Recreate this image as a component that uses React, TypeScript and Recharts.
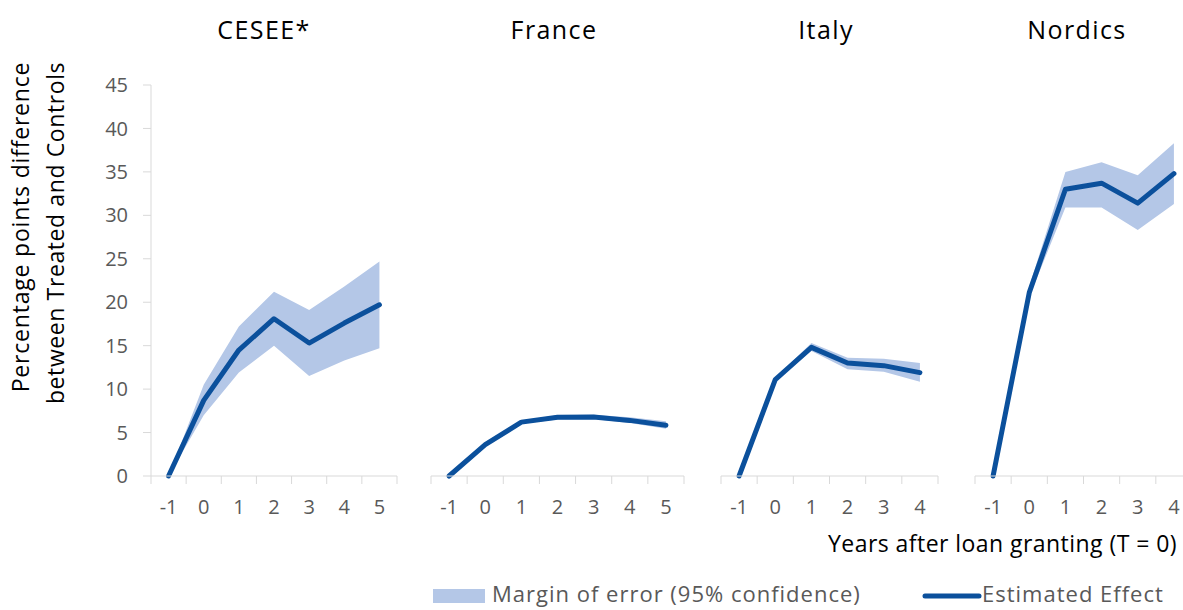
import { ComposedChart, Area, Line, XAxis, YAxis } from 'recharts';

// years after loan granting, per panel
const yearsLong = [-1, 0, 1, 2, 3, 4, 5];
const yearsShort = [-1, 0, 1, 2, 3, 4];

const ceseeEffect = [0, 8.7, 14.5, 18.1, 15.3, 17.6, 19.7];
const ceseeLow = [0, 7.0, 11.9, 15.0, 11.5, 13.3, 14.7];
const ceseeHigh = [0, 10.5, 17.2, 21.2, 19.1, 21.8, 24.7];

const franceEffect = [0, 3.6, 6.2, 6.75, 6.8, 6.4, 5.85];
const franceLow = [0, 3.4, 6.0, 6.5, 6.55, 6.1, 5.45];
const franceHigh = [0, 3.8, 6.4, 7.0, 7.05, 6.75, 6.3];

const italyEffect = [0, 11.1, 14.8, 13.0, 12.7, 11.9];
const italyLow = [0, 10.9, 14.4, 12.3, 12.0, 10.85];
const italyHigh = [0, 11.3, 15.3, 13.6, 13.5, 13.0];

const nordicsEffect = [0, 21.1, 33.0, 33.7, 31.4, 34.8];
const nordicsLow = [0, 20.6, 30.9, 30.9, 28.3, 31.3];
const nordicsHigh = [0, 21.8, 35.0, 36.1, 34.6, 38.3];

const yTicks = [0, 5, 10, 15, 20, 25, 30, 35, 40, 45];

const BAND = '#b4c7e7';
const LINE = '#0b509c';
const AXIS = '#d9d9d9';
const TICK_TEXT = '#595959';
const FONT = '"Open Sans", sans-serif';

const W = 1200;
const H = 610;
const TOP = 85;
const X_AXIS_H = 40;
const BOTTOM = H - 476 - X_AXIS_H;
const Y_AXIS_W = 60;

const buildRows = (years: number[], effect: number[], low: number[], high: number[]) =>
  years.map((year, i) => ({ year, effect: effect[i], band: [low[i], high[i]] }));

const panels = [
  { name: 'CESEE*', start: 151, end: 397, titleX: 264, years: yearsLong, rows: buildRows(yearsLong, ceseeEffect, ceseeLow, ceseeHigh) },
  { name: 'France', start: 431, end: 684, titleX: 554, years: yearsLong, rows: buildRows(yearsLong, franceEffect, franceLow, franceHigh) },
  { name: 'Italy', start: 721, end: 938, titleX: 826, years: yearsShort, rows: buildRows(yearsShort, italyEffect, italyLow, italyHigh) },
  { name: 'Nordics', start: 975, end: 1192, titleX: 1077, years: yearsShort, rows: buildRows(yearsShort, nordicsEffect, nordicsLow, nordicsHigh) },
];

// Excel-style category axis: tick marks sit between categories, labels in the middle
const makeTick = (halfBand: number, last: number) => (props: any) => {
  const { x, y, payload } = props;
  const v = payload.value + 0.5;
  if (v > last) return <g />;
  return (
    <text x={x + halfBand} y={y} dy="0.71em" textAnchor="middle" fill={TICK_TEXT} fontSize={20} fontFamily={FONT}>
      {v}
    </text>
  );
};

const Panel = ({ panel, first }: { panel: (typeof panels)[number]; first: boolean }) => {
  const n = panel.years.length;
  const lo = panel.years[0] - 0.5;
  const hi = panel.years[n - 1] + 0.5;
  const bounds = Array.from({ length: n + 1 }, (_, i) => lo + i);
  const halfBand = (panel.end - panel.start) / n / 2;
  return (
    <div style={{ position: 'absolute', left: 0, top: 0 }}>
      <ComposedChart
        width={W}
        height={H}
        data={panel.rows}
        margin={{ top: TOP, bottom: BOTTOM, left: first ? panel.start - Y_AXIS_W : panel.start, right: W - panel.end }}
      >
        <XAxis
          dataKey="year"
          type="number"
          domain={[lo, hi]}
          ticks={bounds}
          interval={0}
          height={X_AXIS_H}
          stroke={AXIS}
          tickSize={8}
          tickMargin={16}
          tick={makeTick(halfBand, panel.years[n - 1])}
        />
        <YAxis
          domain={[0, 45]}
          ticks={yTicks}
          interval={0}
          hide={!first}
          width={Y_AXIS_W}
          stroke={AXIS}
          tickSize={8}
          tickMargin={15}
          tick={{ fill: TICK_TEXT, fontSize: 20, fontFamily: FONT }}
        />
        <Area
          dataKey="band"
          type="linear"
          stroke="none"
          fill={BAND}
          fillOpacity={1}
          isAnimationActive={false}
          activeDot={false}
        />
        <Line
          dataKey="effect"
          type="linear"
          stroke={LINE}
          strokeWidth={5}
          strokeLinecap="round"
          strokeLinejoin="round"
          dot={false}
          activeDot={false}
          isAnimationActive={false}
        />
      </ComposedChart>
    </div>
  );
};

export default function App() {
  return (
    <div style={{ position: 'relative', width: 1183, height: 610, overflow: 'hidden', background: '#fff', fontFamily: FONT }}>
      <style>{'body{margin:0}'}</style>
      {panels.map((p, i) => (
        <Panel key={p.name} panel={p} first={i === 0} />
      ))}
      <svg width={1183} height={610} style={{ position: 'absolute', left: 0, top: 0, pointerEvents: 'none' }}>
        {panels.map((p) => (
          <text key={p.name} x={p.titleX} y={39} textAnchor="middle" fontSize={25} letterSpacing={1.4} fill="#000" fontFamily={FONT}>
            {p.name}
          </text>
        ))}
        <text transform="translate(28.5,227) rotate(-90)" textAnchor="middle" fontSize={23} letterSpacing={0.8} fill="#000" fontFamily={FONT}>
          Percentage points difference
        </text>
        <text transform="translate(63.5,233) rotate(-90)" textAnchor="middle" fontSize={23} letterSpacing={0.6} fill="#000" fontFamily={FONT}>
          between Treated and Controls
        </text>
        <text x={828} y={552} fontSize={23} letterSpacing={0.45} fill="#000" fontFamily={FONT}>
          Years after loan granting (T = 0)
        </text>
        <rect x={433} y={589} width={52} height={14} fill={BAND} />
        <text x={492} y={602} fontSize={22} letterSpacing={1} fill={TICK_TEXT} fontFamily={FONT}>
          Margin of error (95% confidence)
        </text>
        <line x1={925} y1={596} x2={979} y2={596} stroke={LINE} strokeWidth={5} strokeLinecap="round" />
        <text x={982} y={602} fontSize={22} letterSpacing={1} fill={TICK_TEXT} fontFamily={FONT}>
          Estimated Effect
        </text>
      </svg>
    </div>
  );
}
